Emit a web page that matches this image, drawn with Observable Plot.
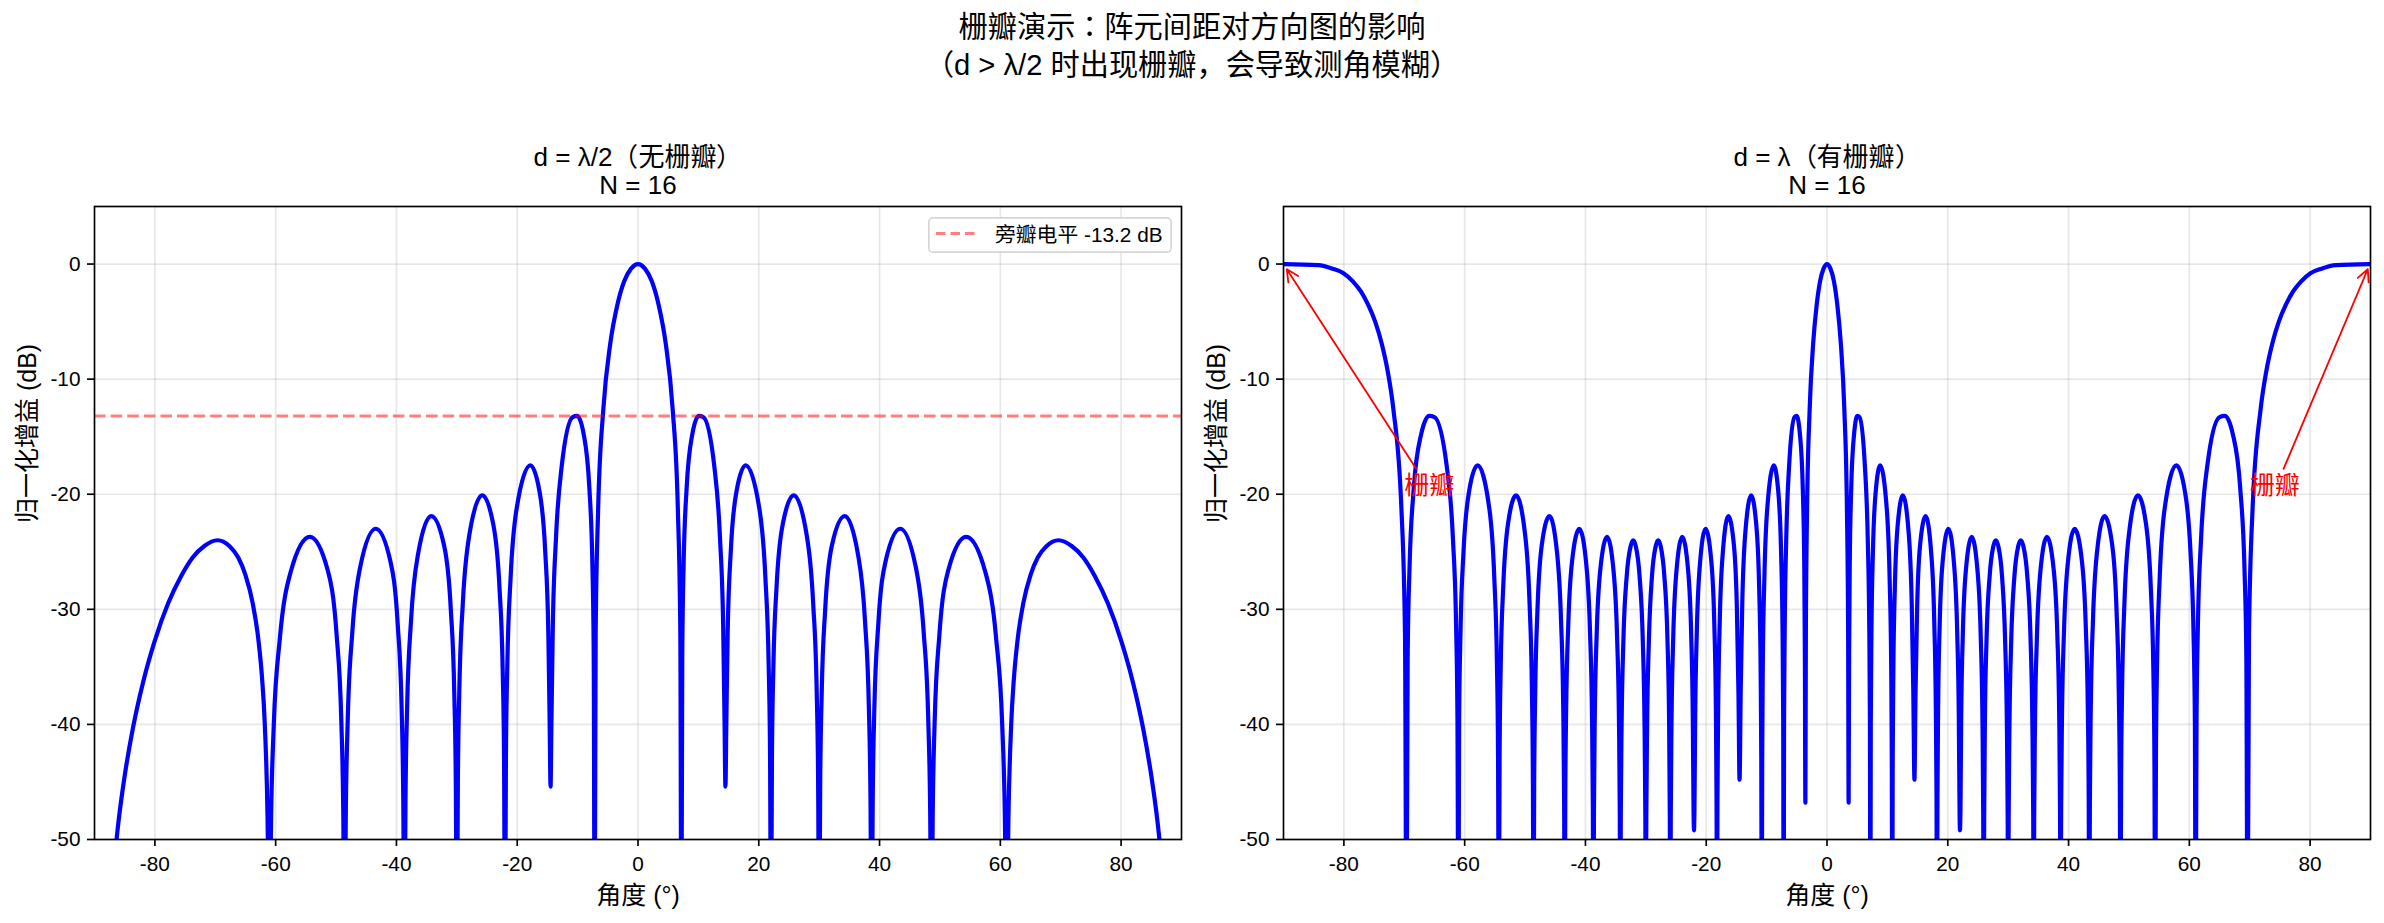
<!DOCTYPE html>
<html>
<head>
<meta charset="utf-8">
<script src="https://cdn.jsdelivr.net/npm/d3@7"></script>
<script src="https://cdn.jsdelivr.net/npm/@observablehq/plot@0.6"></script>
<style>
  @font-face {
    font-family: "PunctCenter";
    src: local("Noto Sans CJK TC Regular"), local("NotoSansCJKtc-Regular"), local("Noto Sans CJK TC");
    unicode-range: U+FF1A, U+FF08, U+FF09;
  }
  * { text-spacing-trim: space-all; }
  html, body { margin: 0; padding: 0; background: #fff; }
  body { width: 2384px; height: 923px; position: relative; overflow: hidden;
         font-family: "Liberation Sans", "PunctCenter", "Noto Sans CJK SC", sans-serif; color: #000; }
  #suptitle { position: absolute; left: 0; top: 7.5px; width: 2384px; text-align: center;
              font-size: 29.2px; line-height: 38px; z-index: 5; }
  .panel { position: absolute; top: 0; z-index: 1; }
  #legend { position: absolute; left: 928px; top: 217px; z-index: 5; }
</style>
</head>
<body>
<div id="leftPanel" class="panel" style="left:0px"></div>
<div id="rightPanel" class="panel" style="left:1192px"></div>
<div id="suptitle"></div>
<div id="legend"></div>
<script>
// ---------------- data ----------------
const suptitleLines = ["栅瓣演示：阵元间距对方向图的影响", "（d > λ/2 时出现栅瓣，会导致测角模糊）"];
const leftTitle = ["d = λ/2（无栅瓣）", "N = 16"];
const rightTitle = ["d = λ（有栅瓣）", "N = 16"];
const xLabel = "角度 (°)";
const yLabel = "归一化增益 (dB)";
const xTicks = [-80, -60, -40, -20, 0, 20, 40, 60, 80];
const yTicks = [-50, -40, -30, -20, -10, 0];
const xDomain = [-90, 90];
const yDomain = [-50, 5];
const sidelobeLevel = [-13.2];
const legendLabel = "旁瓣电平 -13.2 dB";
const gratingLabel = "栅瓣";
const gratingLabelAngle = [-70, 70];
const gratingLabelGain = [-20, -20];
const gratingArrowFromAngle = [-68.0, 75.6];
const gratingArrowFromGain = [-17.8, -17.8];
const gratingArrowToAngle = [-89.45, 89.55];
const gratingArrowToGain = [-0.45, -0.45];

// d = λ/2 pattern: [angle (°), gain (dB)]
const leftPattern = [
[-90,-70],[-87.14,-54.1],[-85.95,-48.1],[-85.04,-44.6],[-83.59,-40.2],[-81.89,-36.2],[-80.06,-32.8],[-77.82,-29.5],[-75.64,-27.1],[-73.74,-25.5],[-71.81,-24.5],[-69.64,-24.0],[-67.67,-24.5],[-66.20,-25.5],[-65.01,-27.0],[-63.83,-29.4],[-62.87,-32.6],[-62.25,-36.0],[-61.80,-40.0],[-61.35,-47.9],[-61.04,-60],
[-60.75,-47.9],[-60.31,-40.0],[-59.32,-32.6],[-57.54,-26.8],[-54.34,-23.7],[-51.38,-26.6],[-49.91,-32.2],[-49.14,-39.5],[-48.81,-47.4],[-48.59,-60],
[-48.38,-47.4],[-48.06,-39.5],[-47.31,-32.0],[-45.95,-26.2],[-43.43,-23.0],[-41.01,-25.8],[-39.79,-31.3],[-39.14,-38.6],[-38.87,-46.5],[-38.68,-60],
[-38.50,-46.5],[-38.23,-38.5],[-37.59,-31.0],[-36.42,-25.2],[-34.23,-21.9],[-32.09,-24.5],[-31.00,-30.0],[-30.42,-37.3],[-30.17,-45.1],[-30.00,-60],
[-29.83,-45.0],[-29.59,-37.1],[-29.01,-29.5],[-27.95,-23.6],[-25.79,-20.1],[-23.97,-22.6],[-22.95,-28.0],[-22.41,-35.2],[-22.18,-43.0],[-22.02,-60],
[-21.87,-42.9],[-21.64,-34.9],[-21.10,-27.3],[-20.11,-21.3],[-17.83,-17.5],[-16.33,-19.7],[-15.37,-24.9],[-14.85,-32.0],[-14.63,-39.8],[-14.48,-45.4],
[-14.33,-39.7],[-14.11,-31.6],[-13.59,-23.9],[-12.64,-17.6],[-10.81,-13.3],[-10.08,-13.2],[-8.99,-14.8],[-8.05,-19.5],[-7.54,-26.4],[-7.33,-34.1],[-7.18,-60],
[-7.01,-32.1],[-6.60,-21.3],[-5.74,-12.6],[-4.59,-6.9],[-3.44,-3.6],[-2.29,-1.5],[-1.15,-0.4],[0,0],
[1.15,-0.4],[2.29,-1.5],[3.44,-3.6],[4.59,-6.9],[5.74,-12.6],[6.60,-21.3],[7.01,-32.1],[7.18,-60],
[7.33,-34.1],[7.54,-26.4],[8.05,-19.5],[8.99,-14.8],[10.08,-13.2],[10.81,-13.3],[12.64,-17.6],[13.59,-23.9],[14.11,-31.6],[14.33,-39.7],[14.48,-45.4],
[14.63,-39.8],[14.85,-32.0],[15.37,-24.9],[16.33,-19.7],[17.83,-17.5],[20.11,-21.3],[21.10,-27.3],[21.64,-34.9],[21.87,-42.9],[22.02,-60],
[22.18,-43.0],[22.41,-35.2],[22.95,-28.0],[23.97,-22.6],[25.79,-20.1],[27.95,-23.6],[29.01,-29.5],[29.59,-37.1],[29.83,-45.0],[30.00,-60],
[30.17,-45.1],[30.42,-37.3],[31.00,-30.0],[32.09,-24.5],[34.23,-21.9],[36.42,-25.2],[37.59,-31.0],[38.23,-38.5],[38.50,-46.5],[38.68,-60],
[38.87,-46.5],[39.14,-38.6],[39.79,-31.3],[41.01,-25.8],[43.43,-23.0],[45.95,-26.2],[47.31,-32.0],[48.06,-39.5],[48.38,-47.4],[48.59,-60],
[48.81,-47.4],[49.14,-39.5],[49.91,-32.2],[51.38,-26.6],[54.34,-23.7],[57.54,-26.8],[59.32,-32.6],[60.31,-40.0],[60.75,-47.9],[61.04,-60],
[61.35,-47.9],[61.80,-40.0],[62.25,-36.0],[62.87,-32.6],[63.83,-29.4],[65.01,-27.0],[66.20,-25.5],[67.67,-24.5],[69.64,-24.0],[71.81,-24.5],[73.74,-25.5],[75.64,-27.1],[77.82,-29.5],[80.06,-32.8],[81.89,-36.2],[83.59,-40.2],[85.04,-44.6],[85.95,-48.1],[87.14,-54.1],[90,-70]
];

// d = λ pattern: [angle (°), gain (dB)]
const rightPattern = [
[-90,0],[-84.27,-0.1],[-81.89,-0.4],[-80.06,-0.8],[-78.52,-1.5],[-77.16,-2.4],[-75.93,-3.6],[-74.82,-5.0],[-73.74,-6.9],[-72.75,-9.3],[-71.81,-12.6],[-70.47,-21.3],[-69.88,-32.1],[-69.64,-60],
[-69.44,-34.1],[-69.13,-26.4],[-68.43,-19.5],[-67.21,-14.8],[-65.86,-13.2],[-65.01,-13.3],[-62.96,-17.6],[-61.94,-23.9],[-61.41,-31.6],[-61.19,-39.7],[-61.04,-60],
[-60.92,-39.8],[-60.69,-32.0],[-60.18,-24.9],[-59.25,-19.7],[-57.87,-17.5],[-55.90,-21.3],[-55.09,-27.3],[-54.65,-34.9],[-54.47,-42.9],[-54.34,-60],
[-54.22,-43.0],[-54.04,-35.2],[-53.61,-28.0],[-52.83,-22.6],[-51.49,-20.1],[-49.97,-23.6],[-49.25,-29.5],[-48.86,-37.1],[-48.70,-45.0],[-48.59,-60],
[-48.49,-45.1],[-48.32,-37.3],[-47.94,-30.0],[-47.25,-24.5],[-45.95,-21.9],[-44.68,-25.2],[-44.04,-31.0],[-43.68,-38.5],[-43.53,-46.5],[-43.43,-60],
[-43.34,-46.5],[-43.19,-38.6],[-42.84,-31.3],[-42.21,-25.8],[-41.01,-23.0],[-39.84,-26.2],[-39.24,-32.0],[-38.91,-39.5],[-38.77,-47.4],[-38.68,-60],
[-38.59,-47.4],[-38.46,-39.5],[-38.14,-32.2],[-37.55,-26.6],[-36.42,-23.7],[-35.32,-26.8],[-34.75,-32.6],[-34.44,-40.0],[-34.31,-47.9],[-34.23,-60],
[-34.15,-47.9],[-34.01,-40.0],[-33.71,-32.6],[-33.15,-27.0],[-32.51,-24.5],[-32.09,-24.0],[-31.67,-24.5],[-31.04,-27.1],[-30.50,-32.8],[-30.21,-40.2],[-30.08,-48.1],[-30.00,-60],
[-29.92,-48.1],[-29.79,-40.2],[-29.50,-32.8],[-28.98,-27.1],[-28.36,-24.5],[-27.95,-24.0],[-27.55,-24.5],[-26.95,-27.0],[-26.42,-32.6],[-26.14,-40.0],[-26.03,-47.9],[-25.94,-60],
[-25.87,-47.9],[-25.75,-40.0],[-25.47,-32.6],[-24.95,-26.8],[-23.97,-23.7],[-23.00,-26.6],[-22.49,-32.2],[-22.22,-39.5],[-22.10,-47.4],[-22.02,-49.2],
[-21.95,-47.4],[-21.83,-39.5],[-21.56,-32.0],[-21.06,-26.2],[-20.11,-23.0],[-19.16,-25.8],[-18.66,-31.3],[-18.40,-38.6],[-18.29,-46.5],[-18.21,-60],
[-18.14,-46.5],[-18.02,-38.5],[-17.76,-31.0],[-17.27,-25.2],[-16.34,-21.9],[-15.40,-24.5],[-14.92,-30.0],[-14.66,-37.3],[-14.48,-44.8],
[-14.29,-37.1],[-14.03,-29.5],[-13.56,-23.6],[-12.56,-20.1],[-11.72,-22.6],[-11.24,-28.0],[-10.99,-35.2],[-10.88,-43.0],[-10.81,-60],
[-10.73,-42.9],[-10.63,-34.9],[-10.37,-27.3],[-9.90,-21.3],[-8.81,-17.5],[-8.08,-19.7],[-7.61,-24.9],[-7.36,-32.0],[-7.25,-39.8],[-7.18,-60],
[-7.11,-39.7],[-7.00,-31.6],[-6.75,-23.9],[-6.28,-17.6],[-5.38,-13.3],[-5.02,-13.2],[-4.48,-14.8],[-4.01,-19.5],[-3.76,-26.4],[-3.66,-34.1],[-3.58,-46.8],
[-3.50,-32.1],[-3.30,-21.3],[-2.87,-12.6],[-2.29,-6.9],[-1.72,-3.6],[-1.15,-1.5],[-0.57,-0.4],[0,0],
[0.57,-0.4],[1.15,-1.5],[1.72,-3.6],[2.29,-6.9],[2.87,-12.6],[3.30,-21.3],[3.50,-32.1],[3.58,-46.8],
[3.66,-34.1],[3.76,-26.4],[4.01,-19.5],[4.48,-14.8],[5.02,-13.2],[5.38,-13.3],[6.28,-17.6],[6.75,-23.9],[7.00,-31.6],[7.11,-39.7],[7.18,-60],
[7.25,-39.8],[7.36,-32.0],[7.61,-24.9],[8.08,-19.7],[8.81,-17.5],[9.90,-21.3],[10.37,-27.3],[10.63,-34.9],[10.73,-42.9],[10.81,-60],
[10.88,-43.0],[10.99,-35.2],[11.24,-28.0],[11.72,-22.6],[12.56,-20.1],[13.56,-23.6],[14.03,-29.5],[14.29,-37.1],[14.48,-44.8],
[14.66,-37.3],[14.92,-30.0],[15.40,-24.5],[16.34,-21.9],[17.27,-25.2],[17.76,-31.0],[18.02,-38.5],[18.14,-46.5],[18.21,-60],
[18.29,-46.5],[18.40,-38.6],[18.66,-31.3],[19.16,-25.8],[20.11,-23.0],[21.06,-26.2],[21.56,-32.0],[21.83,-39.5],[21.95,-47.4],[22.02,-49.2],
[22.10,-47.4],[22.22,-39.5],[22.49,-32.2],[23.00,-26.6],[23.97,-23.7],[24.95,-26.8],[25.47,-32.6],[25.75,-40.0],[25.87,-47.9],[25.94,-60],
[26.03,-47.9],[26.14,-40.0],[26.42,-32.6],[26.95,-27.0],[27.55,-24.5],[27.95,-24.0],[28.36,-24.5],[28.98,-27.1],[29.50,-32.8],[29.79,-40.2],[29.92,-48.1],[30.00,-60],
[30.08,-48.1],[30.21,-40.2],[30.50,-32.8],[31.04,-27.1],[31.67,-24.5],[32.09,-24.0],[32.51,-24.5],[33.15,-27.0],[33.71,-32.6],[34.01,-40.0],[34.15,-47.9],[34.23,-60],
[34.31,-47.9],[34.44,-40.0],[34.75,-32.6],[35.32,-26.8],[36.42,-23.7],[37.55,-26.6],[38.14,-32.2],[38.46,-39.5],[38.59,-47.4],[38.68,-60],
[38.77,-47.4],[38.91,-39.5],[39.24,-32.0],[39.84,-26.2],[41.01,-23.0],[42.21,-25.8],[42.84,-31.3],[43.19,-38.6],[43.34,-46.5],[43.43,-60],
[43.53,-46.5],[43.68,-38.5],[44.04,-31.0],[44.68,-25.2],[45.95,-21.9],[47.25,-24.5],[47.94,-30.0],[48.32,-37.3],[48.49,-45.1],[48.59,-60],
[48.70,-45.0],[48.86,-37.1],[49.25,-29.5],[49.97,-23.6],[51.49,-20.1],[52.83,-22.6],[53.61,-28.0],[54.04,-35.2],[54.22,-43.0],[54.34,-60],
[54.47,-42.9],[54.65,-34.9],[55.09,-27.3],[55.90,-21.3],[57.87,-17.5],[59.25,-19.7],[60.18,-24.9],[60.69,-32.0],[60.92,-39.8],[61.04,-60],
[61.19,-39.7],[61.41,-31.6],[61.94,-23.9],[62.96,-17.6],[65.01,-13.3],[65.86,-13.2],[67.21,-14.8],[68.43,-19.5],[69.13,-26.4],[69.44,-34.1],[69.64,-60],
[69.88,-32.1],[70.47,-21.3],[71.81,-12.6],[72.75,-9.3],[73.74,-6.9],[74.82,-5.0],[75.93,-3.6],[77.16,-2.4],[78.52,-1.5],[80.06,-0.8],[81.89,-0.4],[84.27,-0.1],[90,0]
];

// ---------------- rendering ----------------
const FONT = '"Liberation Sans", "PunctCenter", "Noto Sans CJK SC", sans-serif';
const TICK_FS = 20.8, LABEL_FS = 25, TITLE_FS = 26;
const gridStyle = {stroke: "#b0b0b0", strokeOpacity: 0.3, strokeWidth: 1.67};

document.getElementById("suptitle").innerHTML = suptitleLines.join("<br>");

function makePanel({pattern, title, marginLeft, marginRight, extra}) {
  return Plot.plot({
    width: 1192,
    height: 923,
    marginLeft,
    marginRight,
    marginTop: 206,
    marginBottom: 84,
    x: {domain: xDomain},
    y: {domain: yDomain},
    style: {fontFamily: FONT, fontSize: `${TICK_FS}px`, color: "black", background: "transparent", overflow: "visible"},
    marks: [
      Plot.ruleX(xTicks, gridStyle),
      Plot.ruleY(yTicks, gridStyle),
      Plot.line(pattern, {x: d => d[0], y: d => d[1], stroke: "#0000ff", strokeWidth: 4.2,
                          curve: "monotone-x", clip: true, strokeLinejoin: "round"}),
      ...extra,
      Plot.frame({stroke: "black", strokeWidth: 1.67}),
      Plot.axisX(xTicks, {anchor: "bottom", tickSize: 7, tickPadding: 10, tickFormat: d => `${d}`,
                          fontSize: TICK_FS, strokeWidth: 1.67, label: null}),
      Plot.axisY(yTicks, {anchor: "left", tickSize: 7, tickPadding: 7, tickFormat: d => `${d}`,
                          fontSize: TICK_FS, strokeWidth: 1.67, label: null}),
      Plot.text([title[0]], {text: d => d, frameAnchor: "top", dy: -49, fontSize: TITLE_FS, lineAnchor: "middle"}),
      Plot.text([title[1]], {text: d => d, frameAnchor: "top", dy: -21, fontSize: TITLE_FS, lineAnchor: "middle"}),
      Plot.text([xLabel], {text: d => d, frameAnchor: "bottom", dy: 56, fontSize: LABEL_FS, lineAnchor: "middle"}),
      Plot.text([yLabel], {text: d => d, frameAnchor: "left", dx: -67, rotate: -90, fontSize: LABEL_FS, lineAnchor: "middle"})
    ]
  });
}

const leftExtra = [
  Plot.ruleY(sidelobeLevel, {stroke: "red", strokeOpacity: 0.5, strokeWidth: 3.1, strokeDasharray: "11.6,5"})
];

const labels = gratingLabelAngle.map((a, i) => ({x: a, y: gratingLabelGain[i], text: gratingLabel}));
const arrows = gratingArrowFromAngle.map((a, i) => ({
  x1: a, y1: gratingArrowFromGain[i], x2: gratingArrowToAngle[i], y2: gratingArrowToGain[i]
}));
const rightExtra = [
  Plot.arrow(arrows, {x1: "x1", y1: "y1", x2: "x2", y2: "y2", stroke: "red", strokeWidth: 1.8,
                      headLength: 11, headAngle: 53}),
  Plot.text(labels, {x: "x", y: "y", text: "text", fill: "red", fontSize: LABEL_FS,
                     textAnchor: "start", lineAnchor: "bottom"})
];

document.getElementById("leftPanel").append(
  makePanel({pattern: leftPattern, title: leftTitle, marginLeft: 94, marginRight: 11, extra: leftExtra})
);
document.getElementById("rightPanel").append(
  makePanel({pattern: rightPattern, title: rightTitle, marginLeft: 91, marginRight: 14, extra: rightExtra})
);

// legend (left panel)
const ns = "http://www.w3.org/2000/svg";
const lg = d3.create("svg").attr("width", 244).attr("height", 36).attr("xmlns", ns)
  .style("font-family", FONT).style("overflow", "visible");
lg.append("rect").attr("x", 0.85).attr("y", 0.85).attr("width", 242.3).attr("height", 34.3)
  .attr("rx", 4).attr("fill", "white").attr("fill-opacity", 0.8)
  .attr("stroke", "#cccccc").attr("stroke-opacity", 0.8).attr("stroke-width", 1.67);
lg.append("line").attr("x1", 8).attr("x2", 51).attr("y1", 16.5).attr("y2", 16.5)
  .attr("stroke", "red").attr("stroke-opacity", 0.5).attr("stroke-width", 3.1)
  .attr("stroke-dasharray", "9.5,5");
lg.append("text").attr("x", 67).attr("y", 25).attr("font-size", TICK_FS).attr("fill", "black")
  .text(legendLabel);
document.getElementById("legend").append(lg.node());
</script>
</body>
</html>
